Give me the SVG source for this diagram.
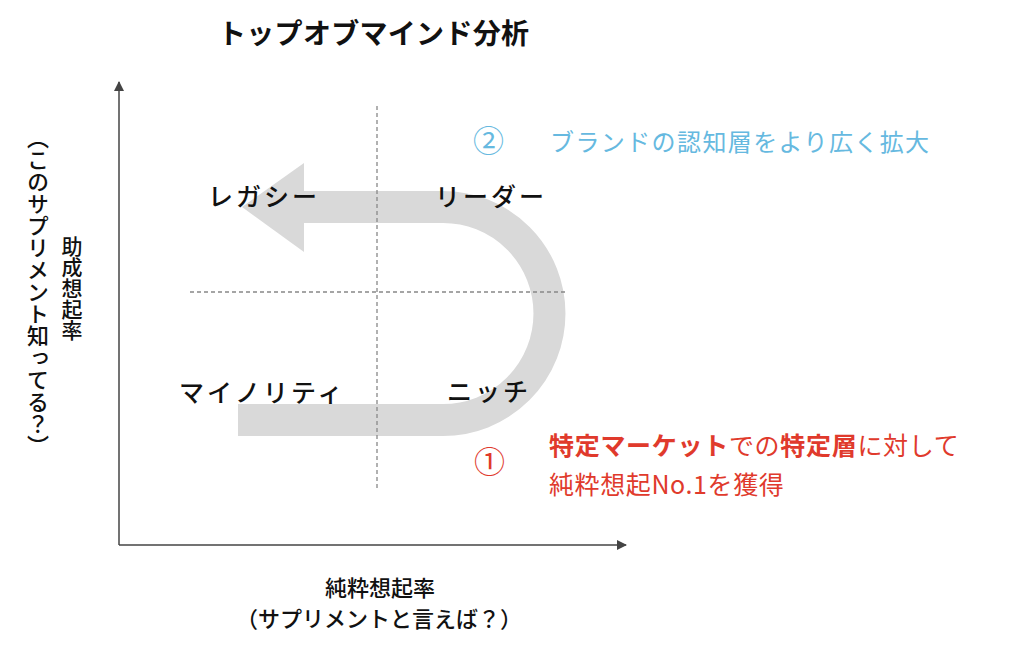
<svg xmlns="http://www.w3.org/2000/svg" width="1024" height="645" viewBox="0 0 1024 645">
<style>
  text { font-family: "Noto Sans CJK JP", "Noto Sans", sans-serif; }
  .title { font-size: 28px; font-weight: bold; fill: #111; letter-spacing: 0.3px; }
  .quad { font-size: 25px; font-weight: 500; fill: #111; letter-spacing: 3px; }
  .axis-label { font-size: 22px; font-weight: 500; fill: #111; }
  .vert { writing-mode: vertical-rl; }
  .blue { fill: #66b9e0; }
  .red { fill: #e03a2c; }
  .axis { stroke: #444; stroke-width: 1.5; fill: none; }
  .grid { stroke: #888; stroke-width: 1.3; stroke-dasharray: 4 3; fill: none; }
  .b { font-weight: bold; }
</style>
<defs>
  <marker id="ah" viewBox="0 0 10 10" refX="9" refY="5" markerWidth="10" markerHeight="10" markerUnits="userSpaceOnUse" orient="auto">
    <path d="M0,0 L10,5 L0,10 Z" fill="#444"/>
  </marker>
</defs>
<rect width="1024" height="645" fill="#fff"/>

<g id="title">
  <text class="title" x="218" y="44">トップオブマインド分析</text>
</g>

<g id="u-arrow">
  <path d="M303,207 L443,207 A106.5,106.5 0 0 1 443,420 L238,420" fill="none" stroke="#d9d9d9" stroke-width="32"/>
  <polygon points="304,163 242,207 304,252" fill="#d9d9d9"/>
</g>

<g id="connectors">
  <line class="axis" x1="119" y1="545" x2="119" y2="82" marker-end="url(#ah)"/>
  <line class="axis" x1="119" y1="545" x2="626" y2="545" marker-end="url(#ah)"/>
  <line class="grid" x1="377" y1="106" x2="377" y2="490"/>
  <line class="grid" x1="190" y1="292" x2="566" y2="292"/>
</g>

<g id="legacy"><text class="quad" x="208" y="206">レガシー</text></g>
<g id="leader"><text class="quad" x="435" y="206">リーダー</text></g>
<g id="minority"><text class="quad" x="179" y="402">マイノリティ</text></g>
<g id="niche"><text class="quad" x="447" y="401">ニッチ</text></g>

<g id="y-label">
  <text class="axis-label vert" x="38" y="127">（このサプリメント知ってる？）</text>
  <text class="axis-label vert" x="72" y="236" style="font-size:21px">助成想起率</text>
</g>

<g id="x-label">
  <text class="axis-label" x="380" y="596" text-anchor="middle">純粋想起率</text>
  <text class="axis-label" x="379" y="627" text-anchor="middle">（サプリメントと言えば？）</text>
</g>

<g id="step2">
  <text class="blue" x="473" y="152" style="font-size:31px">②</text>
  <text class="blue" x="550" y="151" style="font-size:24px;letter-spacing:1.4px">ブランドの認知層をより広く拡大</text>
</g>

<g id="step1">
  <text class="red" x="474" y="473" style="font-size:31px">①</text>
  <text class="red" x="549" y="455" style="font-size:25px;letter-spacing:0.7px"><tspan class="b">特定マーケット</tspan>での<tspan class="b">特定層</tspan>に対して</text>
  <text class="red" x="549" y="494" style="font-size:25px;letter-spacing:0.6px">純粋想起No.1を獲得</text>
</g>
</svg>
